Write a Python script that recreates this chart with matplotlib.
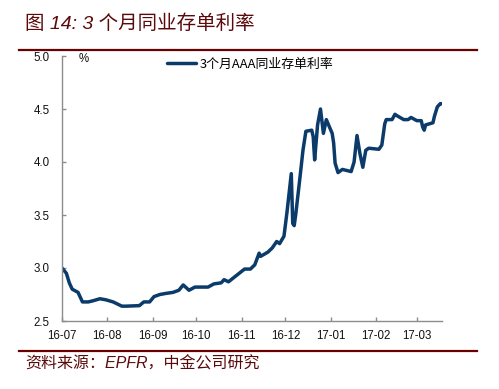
import matplotlib
matplotlib.use("Agg")
import matplotlib.pyplot as plt
import matplotlib.dates as mdates
from matplotlib.lines import Line2D
import pandas as pd

plt.rcParams['font.family'] = ['Liberation Sans', 'Noto Sans CJK SC', 'DejaVu Sans']

title = "图 14: 3 个月同业存单利率"
source = "资料来源：EPFR，中金公司研究"
series_name = "3个月AAA同业存单利率"

dates = [
    "2016-07-01", "2016-07-04", "2016-07-06", "2016-07-08", "2016-07-12", "2016-07-15",
    "2016-07-19", "2016-07-22", "2016-07-27", "2016-07-31", "2016-08-05", "2016-08-11",
    "2016-08-14", "2016-08-23", "2016-08-26", "2016-08-30", "2016-09-02", "2016-09-06",
    "2016-09-10", "2016-09-15", "2016-09-19", "2016-09-22", "2016-09-26", "2016-09-30",
    "2016-10-09", "2016-10-13", "2016-10-18", "2016-10-20", "2016-10-23", "2016-11-03",
    "2016-11-07", "2016-11-10", "2016-11-13", "2016-11-14", "2016-11-19", "2016-11-22",
    "2016-11-25", "2016-11-27", "2016-11-30", "2016-12-02", "2016-12-05", "2016-12-06",
    "2016-12-07", "2016-12-08", "2016-12-11", "2016-12-13", "2016-12-15", "2016-12-19",
    "2016-12-20", "2016-12-21", "2016-12-23", "2016-12-25", "2016-12-27", "2016-12-29",
    "2017-01-02", "2017-01-03", "2017-01-04", "2017-01-06", "2017-01-09", "2017-01-12",
    "2017-01-15", "2017-01-17", "2017-01-19", "2017-01-21", "2017-01-23", "2017-01-25",
    "2017-01-27", "2017-02-03", "2017-02-05", "2017-02-07", "2017-02-08", "2017-02-12",
    "2017-02-14", "2017-02-15", "2017-02-20", "2017-02-23", "2017-02-25", "2017-03-01",
    "2017-03-04", "2017-03-05", "2017-03-06", "2017-03-07", "2017-03-12", "2017-03-13",
    "2017-03-15", "2017-03-17", "2017-03-18",
]
rates = [
    3.00, 2.95, 2.86, 2.80, 2.77, 2.68,
    2.68, 2.69, 2.71, 2.70, 2.68, 2.64,
    2.64, 2.645, 2.68, 2.68, 2.73, 2.75,
    2.76, 2.77, 2.79, 2.84, 2.79, 2.82,
    2.82, 2.85, 2.86, 2.89, 2.87, 2.99,
    2.99, 3.03, 3.14, 3.11, 3.15, 3.19,
    3.25, 3.23, 3.30, 3.52, 3.89, 3.42,
    3.40, 3.50, 3.86, 4.11, 4.29, 4.30,
    4.24, 4.02, 4.35, 4.50, 4.27, 4.40,
    4.27, 4.18, 3.99, 3.90, 3.93, 3.92,
    3.91, 4.00, 4.25, 4.08, 3.95, 4.11,
    4.13, 4.12, 4.16, 4.36, 4.40, 4.40,
    4.45, 4.44, 4.40, 4.40, 4.42, 4.39,
    4.39, 4.33, 4.30, 4.35, 4.37, 4.43,
    4.52, 4.55, 4.55,
]
yticks = [2.5, 3.0, 3.5, 4.0, 4.5, 5.0]

W, H = 499, 389
fig = plt.figure(figsize=(W / 100, H / 100), dpi=100)
ax = fig.add_axes([62 / W, 1 - 321 / H, (441.7 - 62) / W, (321 - 56) / H])

x = pd.to_datetime(dates)
line_color = '#0b3b6a'
ax.plot(x, rates, color=line_color, lw=2.5, solid_capstyle='round', solid_joinstyle='round', label=series_name)

ax.set_xlim(pd.Timestamp("2016-07-01"), pd.Timestamp("2017-03-18"))
ax.set_ylim(2.5, 5.0)
ax.set_yticks(yticks)
ax.set_yticklabels([f"{v:.1f}" for v in yticks])
ax.xaxis.set_major_locator(mdates.MonthLocator())
ax.xaxis.set_major_formatter(mdates.DateFormatter("%y-%m"))

for s in ['top', 'right']:
    ax.spines[s].set_visible(False)
for s in ['left', 'bottom']:
    ax.spines[s].set_color('#8c8c8c')
    ax.spines[s].set_linewidth(1.0)
ax.tick_params(axis='both', direction='in', length=3, width=1, color='#8c8c8c',
               labelsize=8.3, labelcolor='#111111')
ax.tick_params(axis='y', pad=9)
ax.tick_params(axis='x', pad=6.5)

fig.text(84 / W, 1 - 59 / H, "%", fontsize=8.3, ha='center', va='center', color='#111111')

fig.legend(loc='center left', bbox_to_anchor=(166.7 / W, 1 - 64 / H), frameon=False,
           borderpad=0, borderaxespad=0, handlelength=2.27, handletextpad=0.25,
           prop={'family': ['Noto Sans CJK SC'], 'size': 9.3})

fig.text(25 / W, 1 - 24 / H, title, fontsize=14, style='italic', color='#5a0a0a',
         ha='left', va='center')
fig.add_artist(Line2D([19 / W, 477 / W], [1 - 50 / H, 1 - 50 / H], color='#6b0000', lw=1.6,
                      transform=fig.transFigure))
fig.add_artist(Line2D([19 / W, 477 / W], [1 - 350.7 / H, 1 - 350.7 / H], color='#6b0000', lw=1.6,
                      transform=fig.transFigure))
fig.text(25 / W, 1 - 364 / H, source, fontsize=11.5, style='italic', color='#5a0a0a',
         ha='left', va='center')

fig.savefig("out.png", dpi=100)
